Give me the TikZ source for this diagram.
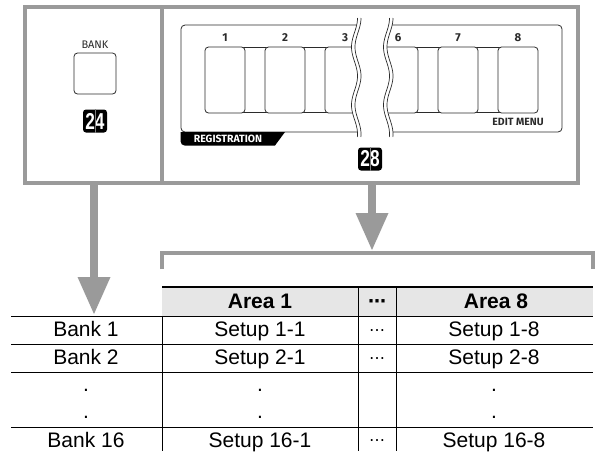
\documentclass[tikz,border=0pt]{standalone}
\usepackage{fontspec}
\setmainfont{Liberation Sans}
\newfontfamily\panelfont{Fira Sans}
\newfontfamily\symfont{DejaVu Sans}
\usetikzlibrary{arrows.meta}
\definecolor{framegray}{HTML}{9A9A9A}
\definecolor{headgray}{HTML}{E6E6E6}
\definecolor{ink}{HTML}{2B2B2B}
\begin{document}
\begin{tikzpicture}[x=1pt,y=-1pt,
  frame/.style={draw=framegray,line width=3.2pt},
  bigarrow/.style={draw=framegray,line width=8.5pt,-{Triangle[width=33pt,length=37pt,line width=0pt]}},
  pline/.style={draw=ink,line width=0.8pt},
  btn/.style={draw=ink,fill=white,line width=0.8pt,rounded corners=3.5pt,inner sep=0pt},
  plabel/.style={font=\panelfont\fontsize{11.5}{13}\selectfont\bfseries,text=ink,inner sep=0pt},
  badge/.style={fill=black,rounded corners=3pt,minimum width=24pt,minimum height=23pt,inner sep=0pt,text=white,font=\fontsize{23}{23}\selectfont\bfseries},
  tline/.style={draw=black,line width=0.9pt},
  cell/.style={anchor=base,inner sep=0pt,font=\fontsize{21}{24}\selectfont},
  hcell/.style={anchor=base,inner sep=0pt,font=\fontsize{21}{24}\selectfont\bfseries},
  wave/.style={draw=ink,line width=0.7pt}
]
\useasboundingbox (0,0) rectangle (599,451);
% outer frame
\draw[frame] (25,7) rectangle (578,183);
\draw[frame] (162,7) -- (162,183);
% left pane
\node[plabel,font=\panelfont\fontsize{11}{12}\selectfont] (banklbl) at (95,45) {BANK};
\node[btn,minimum width=42pt,minimum height=41pt] (bankbtn) at (95,73.5) {};
\node[badge] (b24) at (95,121) {\scalebox{0.75}[1]{24}};
\draw[gray,line width=0.6pt] (b24.north) -- (b24.south);
% right pane panel
\draw[pline,rounded corners=4pt] (181,25) rectangle (562,132);
\draw[pline] (225,47.5) -- (370,47.5) (225,112.6) -- (370,112.6);
\draw[pline] (380,47.5) -- (518,47.5) (380,112.6) -- (518,112.6);
\foreach \cx/\n in {225/1,285/2,345/3,398/6,458/7,518/8}{
  \node[btn,minimum width=40pt,minimum height=66pt] (k\n) at (\cx,80) {};
  \node[plabel] (n\n) at (\cx,38) {\n};
}
% break
\fill[white] plot[variable=\t,domain=18:137,samples=80,smooth] ({354.5+3*cos((\t-18)*6.2069)},{\t})
  -- plot[variable=\t,domain=137:18,samples=80,smooth] ({390+3*cos((\t-18)*6.2069)},{\t}) -- cycle;
\foreach \c in {354.5,358,386.5,390}{
  \draw[wave] plot[variable=\t,domain=18:137,samples=80,smooth] ({\c+3*cos((\t-18)*6.2069)},{\t});
}
% registration tab
\fill[black] (285,132) -- (275,145.5) [rounded corners=4pt] -- (180.6,145.5) [sharp corners] -- (180.6,132) -- cycle;
\node[plabel,text=white,font=\panelfont\fontsize{10.5}{12}\selectfont\bfseries] (reg) at (228,139) {REGISTRATION};
\node[plabel,font=\panelfont\fontsize{10.5}{12}\selectfont\bfseries] (edit) at (518,122) {EDIT MENU};
\node[badge] (b28) at (370,159) {\scalebox{0.75}[1]{28}};
\draw[gray,line width=0.6pt] (b28.north) -- (b28.south);
% arrows
\coordinate (la0) at (94,184);
\coordinate (la1) at (94,314);
\coordinate (ra0) at (372,184);
\coordinate (ra1) at (372,250);
\draw[bigarrow] (la0) -- (la1);
\draw[bigarrow] (ra0) -- (ra1);
% bracket
\draw[frame] (162,269) -- (162,253) -- (593,253) -- (593,269);
% table
\fill[headgray] (162,287) rectangle (593,315.5);
\draw[draw=black,line width=2.6pt] (162,287) -- (593,287);
\foreach \y in {316,344,372,427}{ \draw[tline] (11,\y) -- (593,\y); }
\draw[tline] (162,316) -- (162,451);
\draw[tline] (358,287) -- (358,451);
\draw[tline] (396,287) -- (396,451);
\node[hcell] (h1) at (260,308.5) {Area 1};
\node[hcell,font=\symfont\fontsize{18}{20}\selectfont\bfseries] (h2) at (377,307) {⋯};
\node[hcell] (h3) at (496,308.5) {Area 8};
\node[cell] (r1a) at (86,336.5) {Bank 1};
\node[cell] (r1b) at (260,336.5) {Setup 1-1};
\node[cell,font=\symfont\fontsize{16}{20}\selectfont] (r1c) at (377,335) {⋯};
\node[cell] (r1d) at (494,336.5) {Setup 1-8};
\node[cell] (r2a) at (86,364.5) {Bank 2};
\node[cell] (r2b) at (260,364.5) {Setup 2-1};
\node[cell,font=\symfont\fontsize{16}{20}\selectfont] (r2c) at (377,363) {⋯};
\node[cell] (r2d) at (494,364.5) {Setup 2-8};
\foreach \x/\nm in {86/a,260/b,494/d}{
  \node[cell] (d1\nm) at (\x,391.5) {.};
  \node[cell] (d2\nm) at (\x,418.5) {.};
}
\node[cell] (r3a) at (86,447) {Bank 16};
\node[cell] (r3b) at (260,447) {Setup 16-1};
\node[cell,font=\symfont\fontsize{16}{20}\selectfont] (r3c) at (377,445.5) {⋯};
\node[cell] (r3d) at (494,447) {Setup 16-8};
\end{tikzpicture}
\end{document}
